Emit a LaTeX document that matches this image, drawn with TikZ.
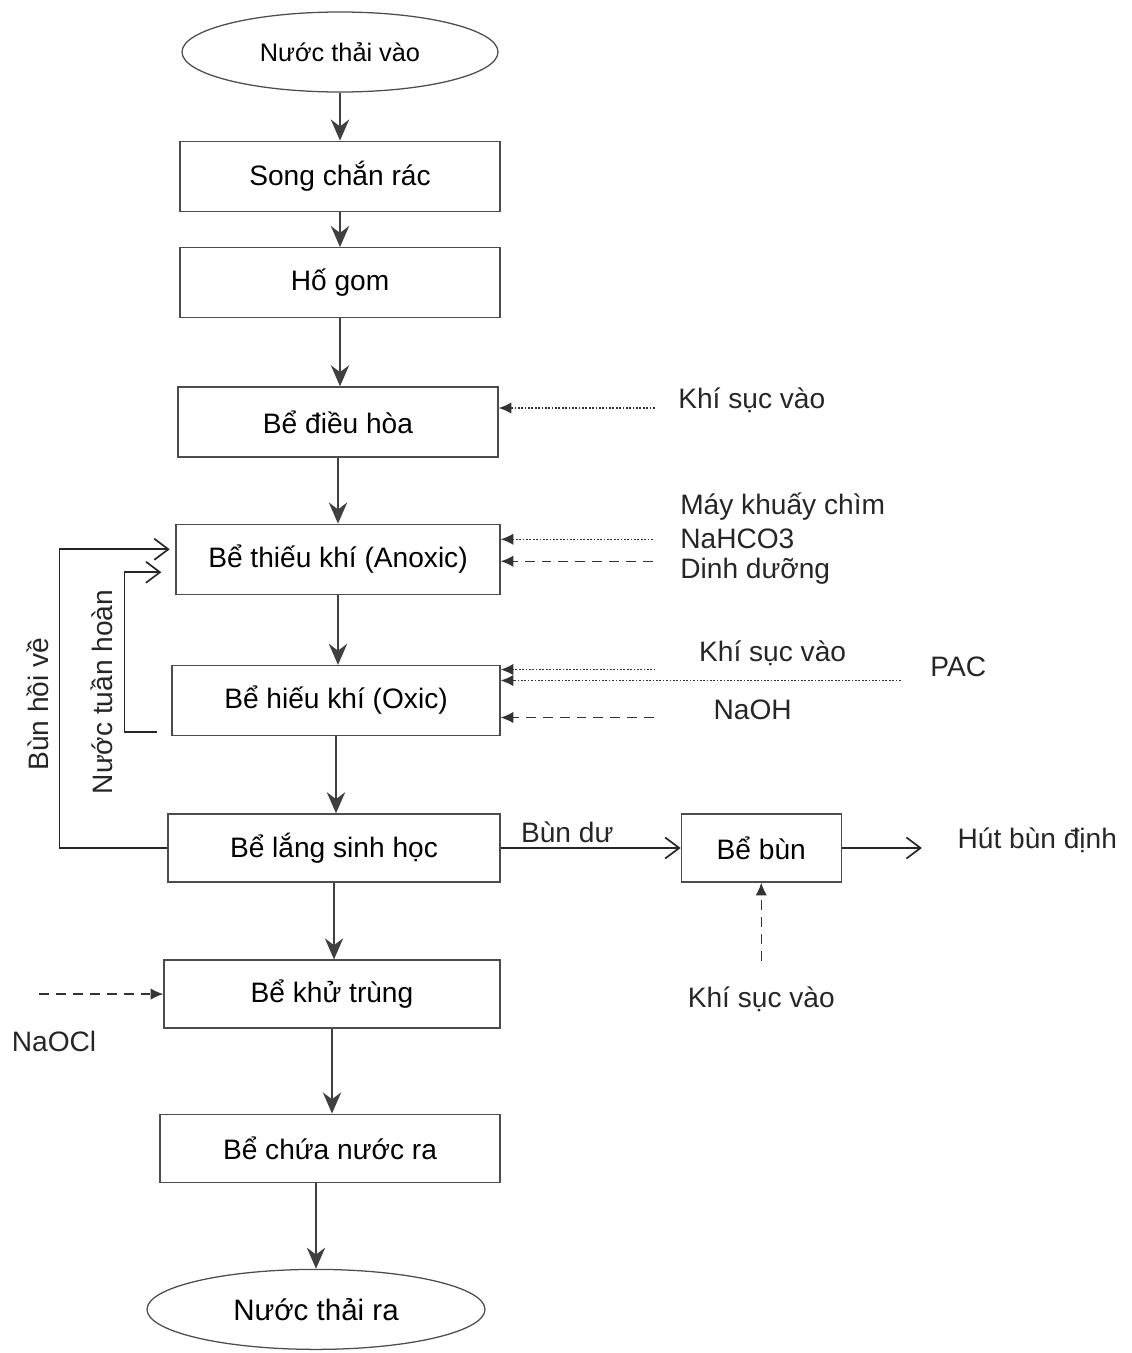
\documentclass[tikz,border=0pt]{standalone}
\usepackage{fontspec}
\setmainfont{Liberation Sans}
\usetikzlibrary{arrows.meta, positioning, shapes.geometric}

\begin{document}
\begin{tikzpicture}[font=\fontsize{20}{24}\selectfont,
          box/.style={draw=black!70,line width=0.9pt,fill=white,
                      minimum width=8cm,minimum height=1.75cm,align=center},
          tank/.style={ellipse,draw=black!70,line width=0.9pt,font=\fontsize{18}{22}\selectfont,
                       minimum width=7.9cm,minimum height=2cm,inner sep=0pt},
          txt/.style={inner sep=1pt,text=black!85},
          flow/.style={-{Stealth[length=15pt,width=13pt]},line width=1.6pt,black!75},
          back/.style={-{Straight Barb[length=10pt,width=15pt]},line width=1.2pt,black!85},
          dotarr/.style={-{Latex[length=9pt,width=8pt]},dash pattern=on 1.2pt off 1.2pt,
                         line width=1pt,black!80},
          dasharr/.style={-{Latex[length=9pt,width=8pt]},dash pattern=on 7pt off 5pt,
                          line width=1pt,black!80}]
        \useasboundingbox (0,0) rectangle (28.3,-33.825);
        % main line
        \node[tank] (vao) at (8.5,-1.3) {Nước thải vào};
        \node[box,below=1.2cm of vao] (song) {Song chắn rác};
        \node[box,below=0.88cm of song] (ho) {Hố gom};
        \node[box,below=1.7cm of ho,xshift=-0.05cm] (dh) {Bể điều hòa};
        \node[box,below=1.65cm of dh,minimum width=8.1cm] (thieu) {Bể thiếu khí (Anoxic)};
        \node[box,below=1.75cm of thieu,xshift=-0.05cm,minimum width=8.2cm] (hieu) {Bể hiếu khí (Oxic)};
        \node[box,below=1.93cm of hieu,xshift=-0.05cm,minimum width=8.3cm,minimum height=1.7cm] (lang) {Bể lắng sinh học};
        \node[box,below=1.92cm of lang,xshift=-0.05cm,minimum width=8.4cm,minimum height=1.7cm] (khu) {Bể khử trùng};
        \node[box,below=2.12cm of khu,xshift=-0.05cm,minimum width=8.5cm,minimum height=1.7cm] (chua) {Bể chứa nước ra};
        \node[tank,below=2.15cm of chua,xshift=-0.35cm,minimum width=8.45cm,
              font=\fontsize{21}{24}\selectfont] (ra) {Nước thải ra};
        \draw[flow] (vao) -- (song);
        \draw[flow] (song) -- (ho);
        \draw[flow] (ho.south) -- (ho.south |- dh.north);
        \draw[flow] (dh) -- (thieu);
        \draw[flow] (thieu.south) -- (thieu.south |- hieu.north);
        \draw[flow] (hieu.south) -- (hieu.south |- lang.north);
        \draw[flow] (lang.south) -- (lang.south |- khu.north);
        \draw[flow] (khu.south) -- (khu.south |- chua.north);
        \draw[flow] (ra.north |- chua.south) -- (ra.north);

        % sludge
        \node[box,right=4.5cm of lang,minimum width=4cm,minimum height=1.7cm] (bun) {Bể bùn};
        \node[txt,right=2.85cm of bun,yshift=0.2cm] (hut) {Hút bùn định};
        \node[txt,below=2.55cm of bun] (khi3) {Khí sục vào};
        \draw[back] (lang.east) -- node[txt,above,pos=0.37,yshift=2pt] {Bùn dư} (bun.west);
        \draw[back,shorten >=0.85cm] (bun.east) -- (bun.east -| hut.west);
        \draw[dasharr,shorten <=0.6cm] (khi3.north) -- (bun.south);

        % returns
        \draw[back,shorten >=4pt] (lang.west) -- ++(-2.7cm,0) coordinate (bhv)
          |- ([yshift=0.25cm]thieu.west);
        \draw[back,shorten >=0.35cm] ([xshift=-0.35cm,yshift=0.1cm]hieu.south west)
          -- ++(-0.825cm,0) coordinate (nth) |- ([yshift=-0.325cm]thieu.west);
        \node[txt,rotate=90] (bunhoi) at (0.95,-17.6) {Bùn hồi về};
        \node[txt,rotate=90] (nuoctuan) at (2.55,-17.3) {Nước tuần hoàn};

        % chemicals and air
        \node[txt,anchor=west] (khi1) at ([xshift=4.45cm,yshift=0.55cm]dh.east) {Khí sục vào};
        \draw[dotarr] ([xshift=-0.55cm,yshift=-0.2cm]khi1.west) -- ([yshift=-0.2cm]khi1.west -| dh.east);

        \node[txt,anchor=west] (may) at ([xshift=4.45cm,yshift=1.325cm]thieu.east) {Máy khuấy chìm};
        \node[txt,anchor=west] (nahco) at ([xshift=4.45cm,yshift=0.5cm]thieu.east) {NaHCO3};
        \node[txt,anchor=west] (dinh) at ([xshift=4.45cm,yshift=-0.3cm]thieu.east) {Dinh dưỡng};
        \draw[dotarr] ([xshift=-0.65cm]nahco.west) -- (nahco.west -| thieu.east);
        \draw[dasharr] ([xshift=-0.65cm,yshift=0.25cm]dinh.west) -- ([yshift=0.25cm]dinh.west -| thieu.east);

        \node[txt] (khi2) at ([xshift=6.8cm,yshift=1.175cm]hieu.east) {Khí sục vào};
        \node[txt,anchor=west] (pac) at ([xshift=10.7cm,yshift=0.85cm]hieu.east) {PAC};
        \node[txt] (naoh) at ([xshift=6.3cm,yshift=-0.225cm]hieu.east) {NaOH};
        \draw[dotarr] ([xshift=-1.05cm,yshift=-0.4cm]khi2.west) -- ([yshift=-0.4cm]khi2.west -| hieu.east);
        \draw[dotarr] ([xshift=-0.7cm,yshift=-0.35cm]pac.west) -- ([yshift=-0.35cm]pac.west -| hieu.east);
        \draw[dasharr] ([xshift=-1.45cm,yshift=-0.2cm]naoh.west) -- ([yshift=-0.2cm]naoh.west -| hieu.east);

        \coordinate (naoclin) at ([xshift=-3.1cm]khu.west);
        \node[txt,anchor=north west] (naocl) at ([xshift=-0.73cm,yshift=-0.875cm]naoclin) {NaOCl};
        \draw[dasharr] (naoclin) -- (khu.west);
      \end{tikzpicture}
\end{document}
